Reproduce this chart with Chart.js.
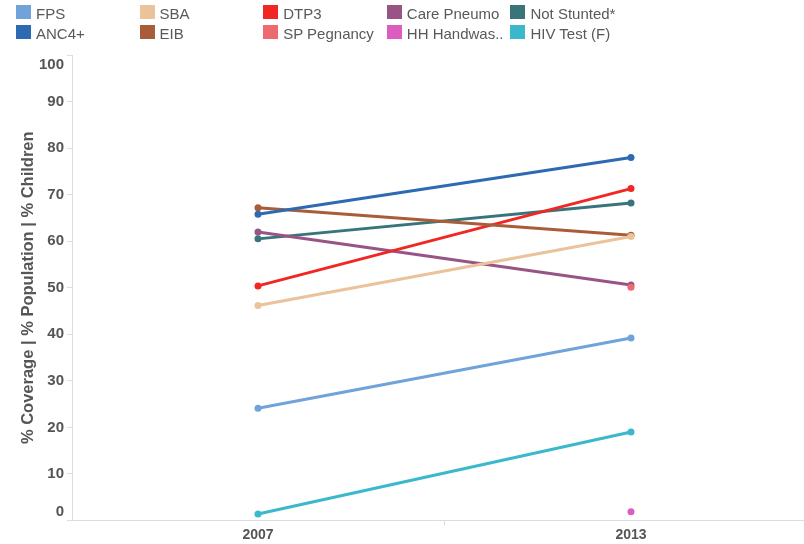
<!DOCTYPE html>
<html>
<head>
<meta charset="utf-8">
<script src="https://cdn.jsdelivr.net/npm/chart.js@4"></script>
<style>
  html, body { margin: 0; padding: 0; background: #fff; }
  #wrap { position: relative; width: 804px; height: 544px; overflow: hidden; }
  #c { position: absolute; left: 0; top: 0; }
  .lg { position: absolute; height: 20px; }
  .sw { position: absolute; left: 0; top: 0; width: 15px; height: 14px; }
  .tx { position: absolute; left: 20px; top: 0.9px; font: 15px "Liberation Sans", Arial, sans-serif; line-height: 15px;
        color: #595959; white-space: nowrap; }
</style>
</head>
<body>
<div id="wrap">
  <canvas id="c" width="804" height="544"></canvas>
  <div id="legend"></div>
</div>
<script>
// ---- data ----
const years = [2007, 2013];
const seriesNames = ['FPS', 'ANC4+', 'SBA', 'EIB', 'DTP3', 'SP Pegnancy', 'Care Pneumo', 'HH Handwas..', 'Not Stunted*', 'HIV Test (F)'];
const fps         = [24.1, 39.2];
const anc4        = [65.8, 78.0];
const sba         = [46.2, 61.0];
const eib         = [67.2, 61.3];
const dtp3        = [50.4, 71.3];
const spPregnancy = [null, 50.1];
const carePneumo  = [62.0, 50.6];
const hhHandwash  = [null, 1.9];
const notStunted  = [60.5, 68.2];
const hivTest     = [1.4, 19.0];
const yTickValues = [0, 10, 20, 30, 40, 50, 60, 70, 80, 90, 100];
const yTitle = '% Coverage | % Population | % Children';

const seriesValues = [fps, anc4, sba, eib, dtp3, spPregnancy, carePneumo, hhHandwash, notStunted, hivTest];
const seriesColors = ['#6fa3d9', '#2d6ab1', '#eac39b', '#a85d38', '#f02723', '#ec6a70', '#995486', '#dc5dbf', '#37757a', '#3bb8cc'];

// ---- legend (column-major, 2 rows) ----
const legend = document.getElementById('legend');
seriesNames.forEach((name, i) => {
  const col = Math.floor(i / 2), row = i % 2;
  const d = document.createElement('div');
  d.className = 'lg';
  d.style.left = (16 + col * 123.6) + 'px';
  d.style.top = (4.7 + row * 20.6) + 'px';
  d.innerHTML = '<div class="sw" style="background:' + seriesColors[i] + '"></div><div class="tx"></div>';
  d.querySelector('.tx').textContent = name;
  legend.appendChild(d);
});

const datasets = seriesNames.map((name, i) => ({
  label: name,
  data: years.map((yr, j) => ({ x: yr, y: seriesValues[i][j] })),
  borderColor: seriesColors[i],
  backgroundColor: seriesColors[i],
  borderWidth: 3,
  pointRadius: 3.5,
  pointBorderWidth: 0,
  pointHoverRadius: 3.5,
  spanGaps: false,
  tension: 0
}));

const axisColor = '#dcdcdc';
const labelColor = '#555555';

const edgeLabels = {
  id: 'edgeLabels',
  afterDraw(chart) {
    const s = chart.scales.y;
    const ctx = chart.ctx;
    ctx.save();
    ctx.font = 'bold 15px "Liberation Sans", Arial, sans-serif';
    ctx.fillStyle = labelColor;
    ctx.textAlign = 'right';
    ctx.textBaseline = 'middle';
    const x = s.right - 8;
    const top = yTickValues[yTickValues.length - 1], bottom = yTickValues[0];
    ctx.fillText(String(top), x, s.getPixelForValue(top) + 9.5);
    ctx.fillText(String(bottom), x, s.getPixelForValue(bottom) - 9);
    ctx.restore();
  }
};

new Chart(document.getElementById('c'), {
  type: 'line',
  data: { datasets },
  plugins: [edgeLabels],
  options: {
    responsive: false,
    animation: false,
    events: [],
    layout: { autoPadding: false, padding: { left: 0, top: 55, right: 0, bottom: 0 } },
    plugins: { legend: { display: false }, tooltip: { enabled: false } },
    scales: {
      x: {
        type: 'linear',
        min: 2004.008,
        max: 2015.783,
        afterBuildTicks(scale) {
          scale.ticks = [{ value: years[0] }, { value: (years[0] + years[1]) / 2 }, { value: years[1] }];
        },
        afterFit(scale) { scale.height = 23.5; },
        border: { display: true, color: axisColor, width: 1 },
        grid: {
          drawOnChartArea: false,
          drawTicks: true,
          tickLength: 5,
          color: (c) => (c.tick && years.includes(c.tick.value)) ? 'rgba(0,0,0,0)' : axisColor
        },
        ticks: {
          autoSkip: false,
          maxRotation: 0,
          padding: 1,
          color: labelColor,
          font: { family: '"Liberation Sans", Arial, sans-serif', size: 14, weight: 'bold' },
          callback: (v) => years.includes(v) ? String(v) : ''
        }
      },
      y: {
        min: 0,
        max: 100,
        afterBuildTicks(scale) { scale.ticks = yTickValues.map(v => ({ value: v })); },
        afterFit(scale) { scale.width = 72; },
        border: { display: true, color: axisColor, width: 1 },
        grid: { drawOnChartArea: false, drawTicks: true, tickLength: 5, color: axisColor },
        ticks: {
          padding: 3,
          color: labelColor,
          font: { family: '"Liberation Sans", Arial, sans-serif', size: 15, weight: 'bold' },
          callback: (v) => (v === yTickValues[0] || v === yTickValues[yTickValues.length - 1]) ? '' : String(v)
        },
        title: {
          display: true,
          text: yTitle,
          color: labelColor,
          font: { family: '"Liberation Sans", Arial, sans-serif', size: 16.5, weight: 'bold' },
          padding: { top: 18.5, bottom: 0 }
        }
      }
    }
  }
});
</script>
</body>
</html>
